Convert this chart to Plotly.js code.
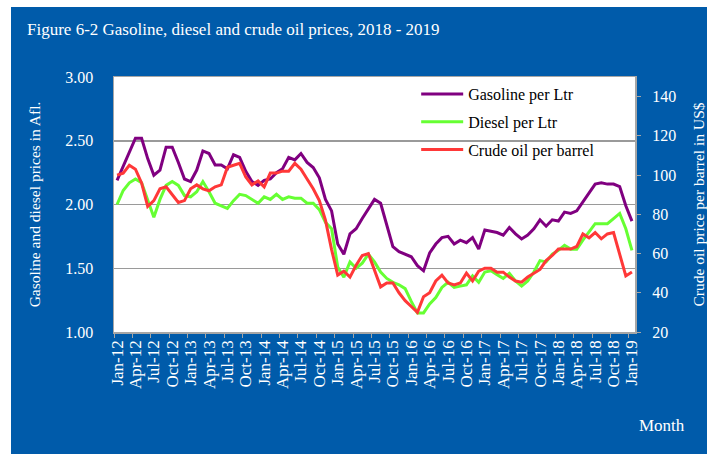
<!DOCTYPE html>
<html><head><meta charset="utf-8">
<script src="https://cdn.plot.ly/plotly-3.0.1.min.js"></script>
<style>
html,body{margin:0;padding:0;background:#fff;}
#bg{position:absolute;left:11px;top:7px;width:696px;height:447px;background:#005BAA;}
#chart{position:absolute;left:0;top:0;width:720px;height:454px;}
</style></head><body>
<div id="bg"></div><div id="chart"></div>
<script>
var months = ["Jan-12","Feb-12","Mar-12","Apr-12","May-12","Jun-12","Jul-12","Aug-12","Sep-12","Oct-12","Nov-12","Dec-12",
"Jan-13","Feb-13","Mar-13","Apr-13","May-13","Jun-13","Jul-13","Aug-13","Sep-13","Oct-13","Nov-13","Dec-13",
"Jan-14","Feb-14","Mar-14","Apr-14","May-14","Jun-14","Jul-14","Aug-14","Sep-14","Oct-14","Nov-14","Dec-14",
"Jan-15","Feb-15","Mar-15","Apr-15","May-15","Jun-15","Jul-15","Aug-15","Sep-15","Oct-15","Nov-15","Dec-15",
"Jan-16","Feb-16","Mar-16","Apr-16","May-16","Jun-16","Jul-16","Aug-16","Sep-16","Oct-16","Nov-16","Dec-16",
"Jan-17","Feb-17","Mar-17","Apr-17","May-17","Jun-17","Jul-17","Aug-17","Sep-17","Oct-17","Nov-17","Dec-17",
"Jan-18","Feb-18","Mar-18","Apr-18","May-18","Jun-18","Jul-18","Aug-18","Sep-18","Oct-18","Nov-18","Dec-18",
"Jan-19"];

var gasoline = [2.19,2.30,2.42,2.52,2.52,2.36,2.23,2.27,2.45,2.45,2.33,2.20,
 2.18,2.27,2.42,2.40,2.31,2.31,2.28,2.39,2.37,2.26,2.18,2.15,
 2.19,2.20,2.25,2.28,2.37,2.35,2.40,2.33,2.29,2.21,2.04,1.95,
 1.69,1.61,1.77,1.81,1.89,1.96,2.04,2.01,1.84,1.67,1.63,1.61,
 1.59,1.52,1.48,1.62,1.69,1.74,1.75,1.69,1.72,1.70,1.74,1.65,
 1.80,1.79,1.78,1.76,1.82,1.77,1.73,1.76,1.81,1.88,1.83,1.88,
 1.87,1.94,1.93,1.95,2.02,2.10,2.16,2.17,2.16,2.16,2.14,1.99,
 1.87];

var diesel = [2.00,2.11,2.17,2.20,2.17,2.04,1.90,2.04,2.15,2.18,2.15,2.07,
 2.06,2.10,2.18,2.10,2.01,1.99,1.97,2.03,2.08,2.07,2.04,2.01,
 2.06,2.04,2.08,2.04,2.06,2.05,2.05,2.01,2.01,1.96,1.86,1.81,
 1.51,1.43,1.55,1.50,1.54,1.61,1.55,1.47,1.42,1.39,1.37,1.34,
 1.24,1.15,1.15,1.22,1.27,1.35,1.39,1.35,1.36,1.37,1.44,1.39,
 1.47,1.48,1.45,1.42,1.46,1.40,1.36,1.40,1.47,1.56,1.55,1.61,
 1.64,1.68,1.65,1.65,1.72,1.79,1.85,1.85,1.85,1.89,1.93,1.81,
 1.64];

var crude = [100,101,105,103,96,84,87,93,94,90,86,87,
 93,95,93,92,94,95,104,105,106,99,95,97,
 94,101,101,102,102,106,103,98,93,87,77,62,
 49,51,48,54,59,60,51,43,45,45,40,36,
 33,30,38,40,46,49,45,44,45,50,46,51,
 52.5,52.5,50.5,50.5,48,46,45.4,48,50,51.9,56.4,59,
 62.3,62.3,62.3,63.6,70,68,70.7,67.5,70,70.7,59,48.6,
 50.6];

var seriesNames = ["Gasoline per Ltr","Diesel per Ltr","Crude oil per barrel"];
var seriesColors = ["#800080","#66FF33","#FF3838"];

var serif = "Liberation Serif, 'Times New Roman', serif";

var traces = [
 {x: months, y: gasoline, name: seriesNames[0], type:'scatter', mode:'lines', line:{color:seriesColors[0], width:3}, yaxis:'y', legendgroup:'a'},
 {x: months, y: diesel, name: seriesNames[1], type:'scatter', mode:'lines', line:{color:seriesColors[1], width:3}, yaxis:'y', legendgroup:'b'},
 {x: months, y: crude, name: seriesNames[2], type:'scatter', mode:'lines', line:{color:seriesColors[2], width:3}, yaxis:'y2', legendgroup:'c'}
];

var layout = {
  width:720, height:454,
  paper_bgcolor:'rgba(0,0,0,0)', plot_bgcolor:'#ffffff',
  margin:{l:114, r:85, t:77, b:122, pad:0},
  font:{family:serif, color:'#ffffff', size:16},
  title:{text:'Figure 6-2 Gasoline, diesel and crude oil prices, 2018 - 2019',
    xref:'container', yref:'container', x:27/720, xanchor:'left', y:1-29/454, yanchor:'middle',
    font:{family:serif, size:17, color:'#ffffff'}},
  showlegend:true,
  legend:{x:0.58, y:1.0, xanchor:'left', yanchor:'top', bgcolor:'rgba(0,0,0,0)', borderwidth:0,
    font:{family:serif, size:16, color:'#000000'}, traceorder:'grouped', tracegroupgap:4, itemwidth:42},
  xaxis:{type:'category', categoryorder:'array', categoryarray:months, range:[-0.5,84.5],
    tickmode:'linear', tick0:0, dtick:3, tickson:'boundaries',
    ticks:'outside', ticklen:4, tickcolor:'#A6A6A6', tickwidth:1, tickangle:-90,
    showline:true, linecolor:'#A6A6A6', linewidth:1.5, mirror:true, showgrid:false, zeroline:false,
    tickfont:{family:serif, size:17, color:'#ffffff'}},
  yaxis:{range:[1,3], tick0:1, dtick:0.5, tickformat:'.2f', showgrid:true, gridcolor:'#9A9A9A', gridwidth:1.5,
    zeroline:false, showline:true, linecolor:'#A6A6A6', linewidth:1.5, mirror:true, ticks:'', ticklabelstandoff:16,
    tickfont:{family:serif, size:16, color:'#ffffff'},
    title:{text:'Gasoline and diesel prices in Afl.', font:{family:serif, size:15.5, color:'#ffffff'}, standoff:21}},
  yaxis2:{overlaying:'y', side:'right', range:[20,150], tick0:20, dtick:20, showgrid:false, zeroline:false,
    showline:false, ticks:'outside', ticklen:5, tickcolor:'#A6A6A6', ticklabelstandoff:8,
    tickfont:{family:serif, size:16, color:'#ffffff'},
    title:{text:'Crude oil price per barrel in US$', font:{family:serif, size:15.5, color:'#ffffff'}, standoff:17}},
  annotations:[{text:'Month', xref:'paper', yref:'paper', x:(662-114)/521, y:(332-425)/255,
    xanchor:'center', yanchor:'middle', showarrow:false, font:{family:serif, size:17, color:'#ffffff'}}]
};

Plotly.newPlot('chart', traces, layout, {staticPlot:true, displayModeBar:false});
</script>
</body></html>
